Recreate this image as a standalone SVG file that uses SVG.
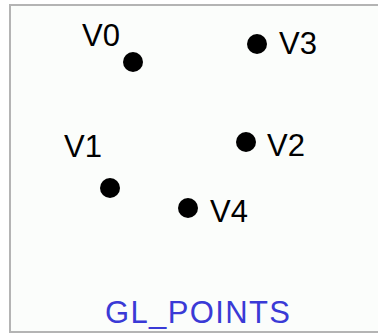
<svg xmlns="http://www.w3.org/2000/svg" width="378" height="333" viewBox="0 0 378 333">
<style>
.lbl{font-family:"Liberation Sans",Arial,sans-serif;font-size:31px;fill:#000}
.dot{fill:#000}
.title{font-family:"Liberation Sans",Arial,sans-serif;font-size:31px;fill:#3a3ad6}
</style>
<rect x="0" y="0" width="378" height="333" fill="#fff"/>
<rect x="10" y="5" width="372" height="327" fill="#fbfdfb" stroke="#b4b4b4" stroke-width="2"/>
<g id="connectors"></g>
<g id="V0"><circle class="dot" cx="133" cy="62" r="10"/><text class="lbl" x="82" y="46">V0</text></g>
<g id="V3"><circle class="dot" cx="257" cy="44" r="10"/><text class="lbl" x="279" y="54">V3</text></g>
<g id="V1"><circle class="dot" cx="110" cy="188" r="10"/><text class="lbl" x="64" y="157">V1</text></g>
<g id="V2"><circle class="dot" cx="246" cy="142" r="10"/><text class="lbl" x="267" y="156">V2</text></g>
<g id="V4"><circle class="dot" cx="188" cy="208" r="10"/><text class="lbl" x="210" y="222">V4</text></g>
<g id="title"><text class="title" x="105" y="323" textLength="185" lengthAdjust="spacing">GL_POINTS</text></g>
</svg>
